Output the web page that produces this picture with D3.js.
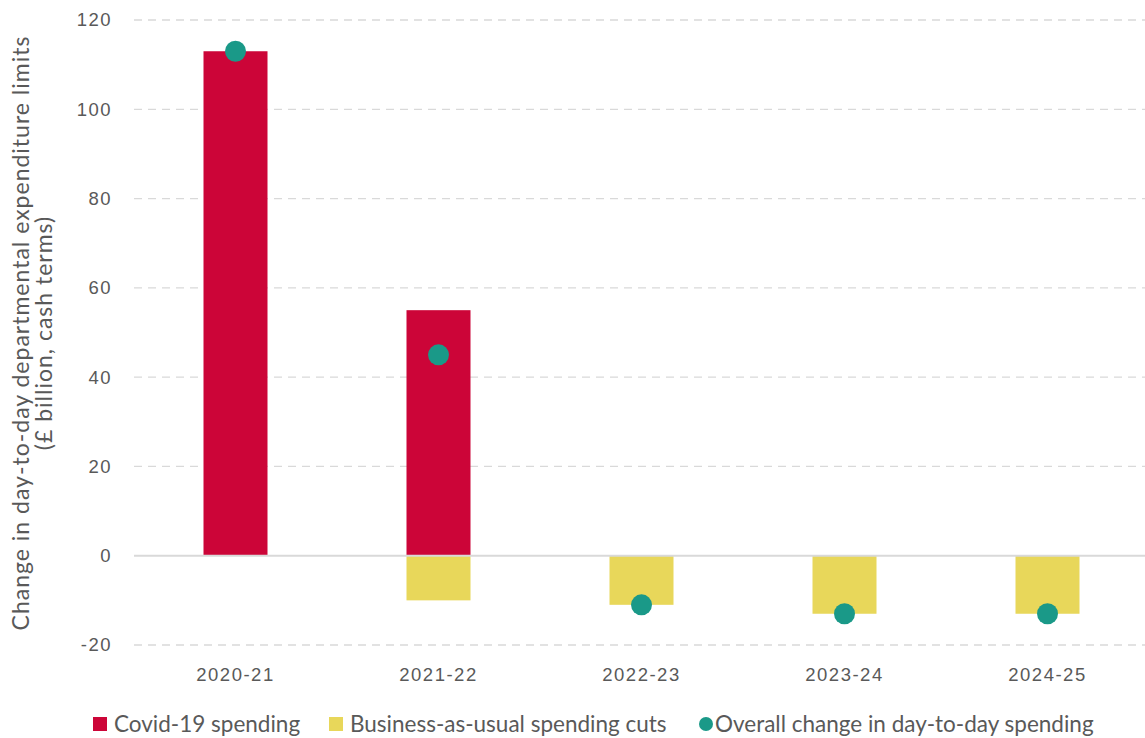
<!DOCTYPE html>
<html lang="en">
<head>
<meta charset="UTF-8">
<title>Day-to-day spending changes</title>
<script src="https://d3js.org/d3.v7.min.js"></script>
<style>
    body { margin: 0; background: #fff; font-family: Lato, "Open Sans", sans-serif; }
    #chart { width: 1145px; height: 738px; }
    .tick text { fill: #595959; font-size: 18.5px; letter-spacing: 1.5px; }
</style>
</head>
<body>
<div id="chart"></div>
<script>
    const years = ["2020-21", "2021-22", "2022-23", "2023-24", "2024-25"];
    const covidSpending = [113, 55, 0, 0, 0];
    const bauCuts = [0, -10, -11, -13, -13];
    const overallChange = [113, 45, -11, -13, -13];
    const yTicks = [-20, 0, 20, 40, 60, 80, 100, 120];

    const colors = {covid: "#cc0538", bau: "#e8d75a", overall: "#1a9988"};

    const margin = {top: 20, right: 0, bottom: 93, left: 134};
    const W = 1145, H = 738;
    const width = 1149 - margin.left;
    const height = H - margin.top - margin.bottom;

    const svg = d3.select("#chart").append("svg")
        .attr("width", W).attr("height", H);
    const g = svg.append("g").attr("transform", `translate(${margin.left},${margin.top})`);

    const x = d3.scaleBand().domain(years).range([0, width]).paddingInner(0).paddingOuter(0);
    const y = d3.scaleLinear().domain([-20, 120]).range([height, 0]);
    const barW = 64;

    // gridlines
    g.selectAll(".grid").data(yTicks.filter(d => d !== 0)).join("line")
        .attr("x1", 0).attr("x2", width)
        .attr("y1", d => y(d)).attr("y2", d => y(d))
        .attr("stroke", "#d9d9d9").attr("stroke-width", 1.3)
        .attr("stroke-dasharray", "8,6");

    // bars
    const rows = years.map((yr, i) => ({yr, covid: covidSpending[i], bau: bauCuts[i], overall: overallChange[i]}));
    g.selectAll(".covid").data(rows.filter(d => d.covid !== 0)).join("rect")
        .attr("x", d => x(d.yr) + x.bandwidth() / 2 - barW / 2)
        .attr("width", barW)
        .attr("y", d => y(d.covid))
        .attr("height", d => y(0) - y(d.covid))
        .attr("fill", colors.covid);
    g.selectAll(".bau").data(rows.filter(d => d.bau !== 0)).join("rect")
        .attr("x", d => x(d.yr) + x.bandwidth() / 2 - barW / 2)
        .attr("width", barW)
        .attr("y", y(0))
        .attr("height", d => y(d.bau) - y(0))
        .attr("fill", colors.bau);

    // zero line
    g.append("line")
        .attr("x1", 0).attr("x2", width)
        .attr("y1", y(0)).attr("y2", y(0))
        .attr("stroke", "#d9d9d9").attr("stroke-width", 2);

    // dots
    g.selectAll(".dot").data(rows).join("circle")
        .attr("cx", d => x(d.yr) + x.bandwidth() / 2)
        .attr("cy", d => y(d.overall))
        .attr("r", 10.5)
        .attr("fill", colors.overall);

    // axes
    const yAxis = g.append("g")
        .call(d3.axisLeft(y).tickValues(yTicks).tickSize(0).tickPadding(22)
            .tickFormat(d => String(d)));
    yAxis.select(".domain").remove();

    const xAxis = g.append("g").attr("transform", `translate(0,${height})`)
        .call(d3.axisBottom(x).tickSize(0).tickPadding(23));
    xAxis.select(".domain").remove();

    // y title
    const yt = svg.append("text")
        .attr("transform", `translate(34,333) rotate(-90)`)
        .attr("text-anchor", "middle")
        .attr("fill", "#595959")
        .style("font-size", "23px")
        .style("letter-spacing", "1px");
    yt.append("tspan").attr("x", 0).attr("dy", "-0.2em").text("Change in day-to-day departmental expenditure limits");
    yt.append("tspan").attr("x", 0).attr("dy", "1.0em").text("(£ billion, cash terms)");

    // legend
    const legend = [
        {label: "Covid-19 spending", color: colors.covid, shape: "rect", x: 93},
        {label: "Business-as-usual spending cuts", color: colors.bau, shape: "rect", x: 329},
        {label: "Overall change in day-to-day spending", color: colors.overall, shape: "circle", x: 699}
    ];
    const lg = svg.append("g").attr("transform", "translate(0,724)");
    legend.forEach(d => {
        if (d.shape === "rect") {
            lg.append("rect").attr("x", d.x).attr("y", -7).attr("width", 14).attr("height", 14).attr("fill", d.color);
            lg.append("text").attr("x", d.x + 21).attr("y", 0).attr("dy", "0.35em")
                .attr("fill", "#595959").style("font-size", "22.5px").text(d.label);
        } else {
            lg.append("circle").attr("cx", d.x + 7).attr("cy", 0).attr("r", 7).attr("fill", d.color);
            lg.append("text").attr("x", d.x + 16).attr("y", 0).attr("dy", "0.35em")
                .attr("fill", "#595959").style("font-size", "22.5px").text(d.label);
        }
    });
</script>
</body>
</html>
